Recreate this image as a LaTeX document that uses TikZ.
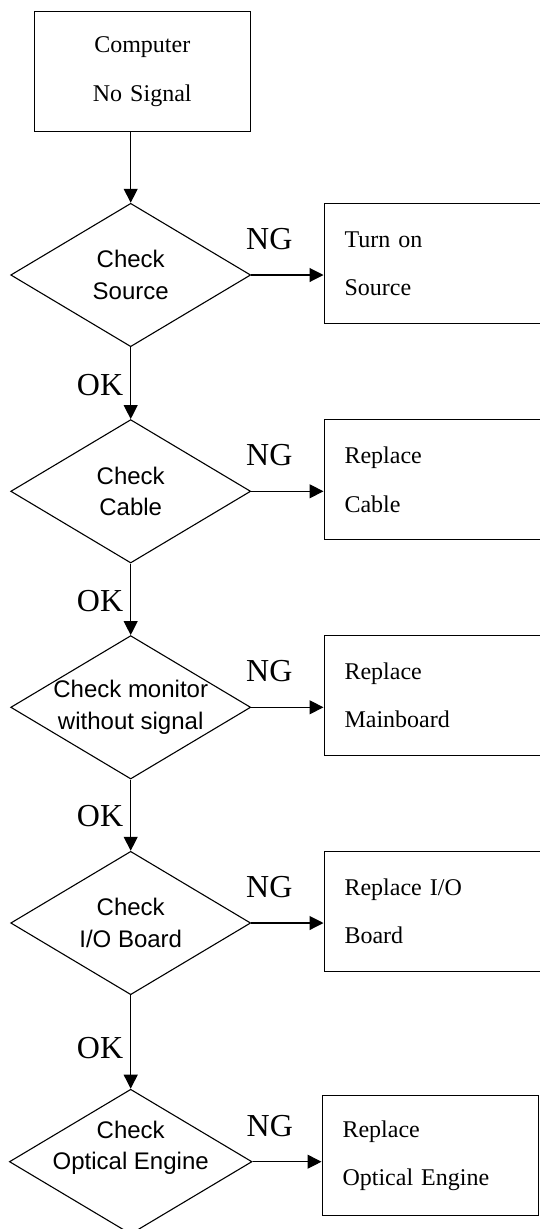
\documentclass[tikz,border=0pt]{standalone}
\usepackage{fontspec}
\setmainfont{Liberation Serif}
\newfontfamily\arialfont{Liberation Sans}
\usetikzlibrary{arrows.meta,positioning,shapes.geometric}

\begin{document}
\begin{tikzpicture}[x=1pt, y=-1pt, line width=1.1pt, >={Triangle[length=14pt,width=14pt]},
  box/.style={draw, rectangle, minimum width=216pt, minimum height=120pt, inner ysep=0pt, inner xsep=20.5pt, text width=175pt, align=left, font=\fontsize{24}{48.3}\selectfont},
  chk/.style={draw, diamond, aspect=1.674, minimum width=240pt, minimum height=143.4pt, inner sep=-2pt, align=center, font=\arialfont\fontsize{24}{31.7}\selectfont},
  tag/.style={inner sep=0pt, font=\fontsize{32}{38}\selectfont}]
\useasboundingbox (0,0) rectangle (539,1229);
% main column
\node[box, align=center, anchor=north west] (start) at (33.7,11) {Computer\\No Signal};
\node[chk] (d1) at (130.7,275) {Check\\Source};
\node[chk] (d2) at (130.7,491.3) {Check\\Cable};
\node[chk] (d3) at (130.7,707.3) {Check monitor\\without signal};
\node[chk] (d4) at (130.7,923) {Check\\I/O Board};
\node[chk, text depth=33pt, inner ysep=-14pt] (d5) at (130.7,1161.7) {Check\\Optical Engine};
% actions
\node[box, anchor=north west] (r1) at (323.5,203.3) {Turn on\\Source};
\node[box, anchor=north west] (r2) at (323.5,419.3) {Replace\\Cable};
\node[box, anchor=north west] (r3) at (323.5,634.8) {Replace\\Mainboard};
\node[box, anchor=north west] (r4) at (323.5,851) {Replace I/O\\Board};
\node[box, anchor=north west] (r5) at (321.5,1095) {Replace\\Optical Engine};
% OK path
\draw[->] (start.south -| d1.north) -- (d1.north);
\draw[->] (d1.south) -- node[tag, left=7pt, pos=.52] {OK} (d2.north);
\draw[->] (d2.south) -- node[tag, left=7pt, pos=.53] {OK} (d3.north);
\draw[->] (d3.south) -- node[tag, left=7pt, pos=.51] {OK} (d4.north);
\draw[->] (d4.south) -- node[tag, left=7pt, pos=.56] {OK} (d5.north);
% NG path
\foreach \i in {1,...,5}
  \draw[->] (d\i.east) -- node[tag, above=24.5pt, pos=.25] {NG} (r\i.west |- d\i.east);
\end{tikzpicture}
\end{document}
